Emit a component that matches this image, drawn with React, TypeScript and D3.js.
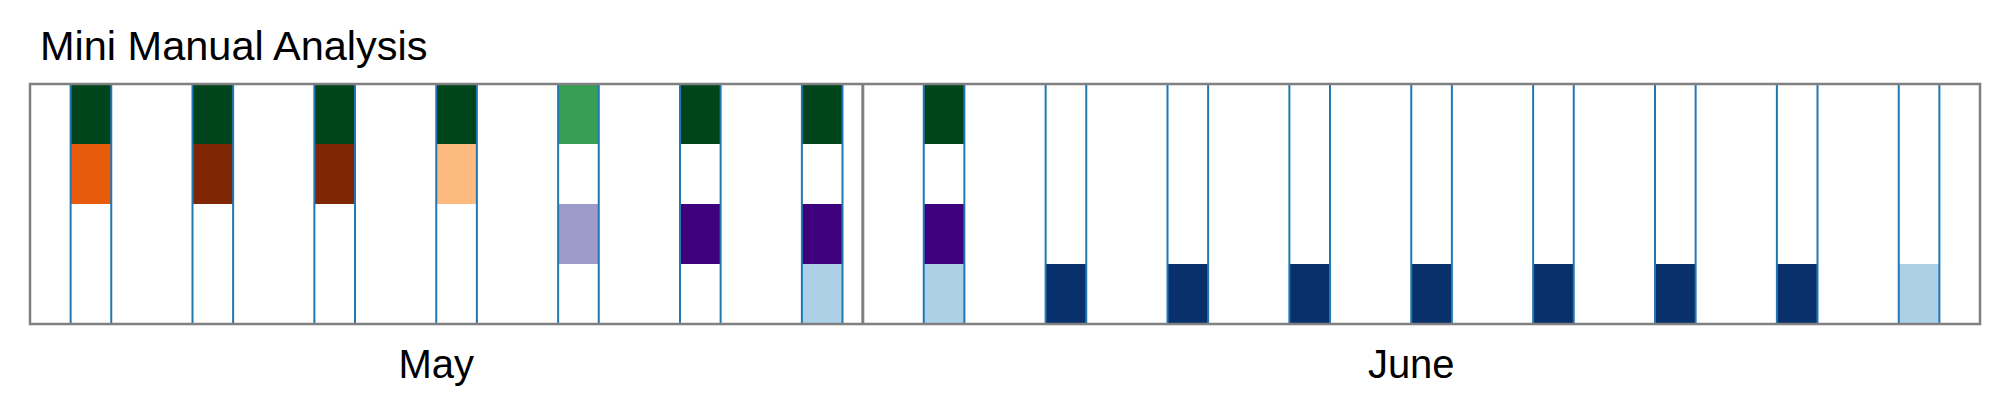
import React from "react";
import * as d3 from "d3";

// ---- data ----
const title = "Mini Manual Analysis";
const months = ["May", "June"];
// timeline measured in slots (one slot = one third of a session spacing)
const timelineDomain = [0, 48];
const monthBoundary = 20.5;
const monthLabelSlot = [10, 34];
const sessionSlots = [1, 4, 7, 10, 13, 16, 19, 22, 25, 28, 31, 34, 37, 40, 43, 46];
const rowKeys = ["Greens", "Oranges", "Purples", "Blues"];
const greenValues = [1, 1, 1, 1, 0.67, 1, 1, 1, 0, 0, 0, 0, 0, 0, 0, 0];
const orangeValues = [0.68, 1, 1, 0.33, 0, 0, 0, 0, 0, 0, 0, 0, 0, 0, 0, 0];
const purpleValues = [0, 0, 0, 0, 0.5, 1, 1, 1, 0, 0, 0, 0, 0, 0, 0, 0];
const blueValues = [0, 0, 0, 0, 0, 0, 0.33, 0.33, 1, 1, 1, 1, 1, 1, 1, 0.33];

const rowValues = [greenValues, orangeValues, purpleValues, blueValues];
const rowInterpolators = [
  d3.interpolateGreens,
  d3.interpolateOranges,
  d3.interpolatePurples,
  d3.interpolateBlues,
];

export default function App() {
  const W = 2009;
  const H = 416;
  const x = d3.scaleLinear().domain(timelineDomain).range([30, 1980]);
  const y = d3.scaleBand<string>().domain(rowKeys).range([84, 324]).padding(0);
  const font = "'Liberation Sans', Arial, Helvetica, sans-serif";

  return (
    <svg
      width={W}
      height={H}
      style={{ position: "absolute", left: 0, top: 0, background: "#fff" }}
    >
      <text x={40} y={60} fontFamily={font} fontSize={41.5} fill="#000">
        {title}
      </text>
      <rect x={x(0)} y={84} width={x(48) - x(0)} height={240} fill="#fff" />
      {sessionSlots.map((s, ci) => (
        <g key={ci}>
          {rowKeys.map((rk, ri) => {
            const v = rowValues[ri][ci];
            if (!v) return null;
            return (
              <rect
                key={rk}
                x={x(s)}
                y={y(rk)}
                width={x(s + 1) - x(s)}
                height={y.bandwidth()}
                fill={rowInterpolators[ri](v)}
              />
            );
          })}
          <line x1={x(s)} x2={x(s)} y1={84} y2={324} stroke="#1f77b4" strokeWidth={2} />
          <line x1={x(s + 1)} x2={x(s + 1)} y1={84} y2={324} stroke="#1f77b4" strokeWidth={2} />
        </g>
      ))}
      <line
        x1={x(monthBoundary)}
        x2={x(monthBoundary)}
        y1={84}
        y2={324}
        stroke="#808080"
        strokeWidth={3}
      />
      <rect
        x={x(0)}
        y={84}
        width={x(48) - x(0)}
        height={240}
        fill="none"
        stroke="#808080"
        strokeWidth={2.5}
      />
      {months.map((m, i) => (
        <text
          key={m}
          x={x(monthLabelSlot[i])}
          y={378}
          textAnchor="middle"
          fontFamily={font}
          fontSize={40}
          fill="#000"
        >
          {m}
        </text>
      ))}
    </svg>
  );
}
